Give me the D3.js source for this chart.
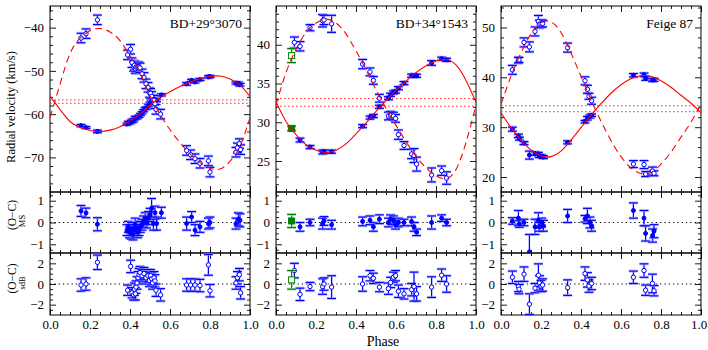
<!DOCTYPE html>
<html><head><meta charset="utf-8">
<script src="https://cdn.jsdelivr.net/npm/d3@7"></script>
<style>
body{margin:0;background:#fff;}
svg{display:block;}
text{font-family:"Liberation Serif","Times New Roman",serif;}
</style></head><body>
<svg id="chart" width="708" height="350"></svg>
<script>
// ---------------- DATA ----------------
const starNames = ["BD+29°3070", "BD+34°1543", "Feige 87"];
const rvDomains = [[-78, -35], [21, 45], [17, 54.3]];
const rvTicks = [[-70, -60, -50, -40], [25, 30, 35, 40], [20, 30, 40, 50]];
const rvMinorStep = [2, 1, 2];
const phaseTicks = [0, 0.2, 0.4, 0.6, 0.8, 1.0];
const ocMSTicks = [-1, 0, 1];
const ocSdbTicks = [-2, 0, 2];
const gammaMS = [-57.5, 32.07, 33.1];
const gammaSdb = [-56.7, 33.06, 34.3];

// model curves sampled at these phases
const modelPhase = [0, 0.05, 0.1, 0.15, 0.2, 0.25, 0.3, 0.35, 0.4, 0.45, 0.5, 0.55, 0.6, 0.65, 0.7, 0.75, 0.8, 0.85, 0.9, 0.95, 1.0];
const bd29MsModel = [-55.9, -58.9, -61.7, -63.1, -63.8, -64.0, -63.7, -62.9, -61.5, -60.0, -57.9, -56.2, -54.8, -53.6, -52.6, -51.8, -51.3, -51.2, -51.9, -53.3, -55.9];
const bd29SdbModel = [-60.8, -53.1, -46.0, -42.5, -40.7, -40.2, -41.0, -43.0, -46.5, -50.4, -55.7, -60.0, -63.6, -66.6, -69.2, -71.2, -72.5, -72.7, -70.9, -67.4, -60.8];
const bd34MsModel = [32.6, 30.1, 28.4, 27.1, 26.4, 26.1, 26.4, 27.2, 28.5, 29.9, 31.4, 32.8, 34.1, 35.3, 36.4, 37.3, 37.9, 38.1, 37.4, 35.4, 32.6];
const bd34SdbModel = [32.2, 36.4, 39.4, 41.6, 42.8, 43.3, 42.8, 41.4, 39.2, 36.8, 34.2, 31.8, 29.6, 27.5, 25.6, 24.1, 23.1, 22.7, 23.9, 27.4, 32.2];
const feigeMsModel = [32.9, 29.9, 27.4, 25.4, 24.2, 24.1, 25.2, 27.4, 29.9, 32.4, 34.7, 36.8, 38.5, 39.7, 40.3, 40.2, 39.3, 38.0, 36.4, 34.8, 32.9];
const feigeSdbModel = [34.6, 40.2, 44.9, 48.7, 50.9, 51.1, 49.0, 44.9, 40.2, 35.5, 31.2, 27.3, 24.1, 21.8, 20.7, 20.9, 22.6, 25.0, 28.0, 31.0, 34.6];

// observations: [phase, value, error]
const bd29MsRV = [[0.155,-62.65,0.25],[0.18,-63.1,0.22],[0.237,-64.0,0.3],[0.385,-62.3,0.25],[0.392,-61.9,0.25],[0.398,-62.0,0.25],[0.405,-61.85,0.25],[0.41,-61.5,0.3],[0.415,-61.6,0.25],[0.42,-61.25,0.25],[0.426,-60.8,0.3],[0.432,-60.8,0.25],[0.438,-60.8,0.25],[0.445,-60.5,0.25],[0.452,-60.1,0.25],[0.46,-59.7,0.25],[0.468,-59.2,0.25],[0.476,-58.7,0.25],[0.483,-58.6,0.25],[0.492,-58.0,0.3],[0.5,-57.55,0.3],[0.508,-57.0,0.45],[0.517,-57.4,0.3],[0.525,-56.6,0.3],[0.533,-56.8,0.3],[0.557,-55.55,0.25],[0.683,-53.0,0.3],[0.708,-52.2,0.25],[0.725,-52.55,0.25],[0.75,-52.0,0.25],[0.792,-51.4,0.25],[0.8,-51.3,0.25],[0.93,-52.8,0.25],[0.942,-52.9,0.3],[0.95,-53.2,0.3]];
const bd29MsOC = [[0.155,0.53,0.25],[0.18,0.44,0.22],[0.237,-0.08,0.3],[0.385,-0.35,0.25],[0.392,-0.2,0.25],[0.398,-0.45,0.25],[0.405,-0.5,0.25],[0.41,-0.3,0.3],[0.415,-0.55,0.25],[0.42,-0.35,0.25],[0.426,-0.1,0.3],[0.432,-0.25,0.25],[0.438,-0.45,0.25],[0.445,-0.35,0.25],[0.452,-0.2,0.25],[0.46,-0.1,0.25],[0.468,0.05,0.25],[0.476,0.2,0.25],[0.483,0.0,0.25],[0.492,0.2,0.3],[0.5,0.35,0.3],[0.508,0.65,0.45],[0.517,-0.05,0.3],[0.525,0.45,0.3],[0.533,-0.05,0.3],[0.557,0.45,0.25],[0.683,-0.05,0.3],[0.708,0.25,0.25],[0.725,-0.35,0.25],[0.75,-0.2,0.25],[0.792,-0.05,0.25],[0.8,0.0,0.25],[0.93,-0.05,0.25],[0.942,0.15,0.3],[0.95,0.1,0.3]];
const bd29SdbRV = [[0.155,-42.4,1.1],[0.18,-41.4,1.1],[0.237,-38.2,1.1],[0.388,-46.3,1.1],[0.403,-45.0,1.1],[0.41,-48.1,1.1],[0.418,-49.0,1.1],[0.422,-48.7,1.1],[0.427,-49.5,1.1],[0.43,-49.1,1.1],[0.435,-49.1,1.1],[0.44,-49.0,1.1],[0.445,-49.1,1.1],[0.45,-49.3,1.1],[0.46,-50.7,1.1],[0.47,-51.5,1.1],[0.48,-53.0,1.1],[0.49,-53.8,1.1],[0.497,-55.0,1.1],[0.503,-55.2,1.1],[0.508,-55.9,1.1],[0.513,-56.7,1.1],[0.52,-56.8,1.1],[0.525,-57.6,1.1],[0.53,-58.9,1.1],[0.553,-60.0,1.1],[0.683,-68.4,1.1],[0.703,-69.4,1.1],[0.725,-70.3,1.1],[0.75,-71.35,1.1],[0.792,-70.8,1.1],[0.8,-73.4,1.1],[0.93,-68.8,1.1],[0.937,-67.8,1.1],[0.947,-66.8,1.1],[0.953,-68.2,1.1]];
const bd29SdbOC = [[0.155,-0.1,0.6],[0.18,0.0,0.6],[0.237,2.1,0.7],[0.388,-0.6,0.5],[0.403,1.7,0.6],[0.41,-0.85,0.5],[0.418,-1.05,0.5],[0.422,-0.5,0.6],[0.427,-0.95,0.6],[0.43,-0.3,0.6],[0.435,0.1,0.6],[0.44,0.6,0.6],[0.445,0.9,0.6],[0.45,1.1,0.6],[0.46,0.8,0.6],[0.47,1.0,0.6],[0.48,0.6,0.6],[0.49,0.8,0.6],[0.497,0.35,0.6],[0.503,0.8,0.6],[0.508,0.5,0.6],[0.513,0.1,0.6],[0.52,0.6,0.6],[0.525,0.3,0.6],[0.53,-0.6,0.6],[0.553,-1.05,0.6],[0.683,-0.1,0.6],[0.703,-0.1,0.6],[0.725,-0.1,0.6],[0.75,-0.15,0.6],[0.792,1.85,1.0],[0.8,-0.65,0.6],[0.93,0.1,0.6],[0.937,0.6,0.6],[0.947,0.9,0.6],[0.953,-0.85,0.6]];

const bd34MsRV = [[0.12,27.7,0.25],[0.17,26.8,0.2],[0.233,26.15,0.25],[0.24,26.2,0.2],[0.278,26.2,0.2],[0.433,29.5,0.2],[0.47,30.6,0.2],[0.487,30.8,0.2],[0.517,32.0,0.2],[0.562,33.1,0.2],[0.573,33.55,0.2],[0.587,33.85,0.2],[0.598,33.95,0.2],[0.612,34.4,0.2],[0.64,35.05,0.2],[0.678,36.0,0.2],[0.69,36.0,0.2],[0.703,36.0,0.2],[0.778,37.65,0.3],[0.828,38.2,0.2],[0.853,38.05,0.2]];
const bd34MsOC = [[0.12,-0.2,0.2],[0.17,0.0,0.15],[0.233,-0.05,0.25],[0.24,0.07,0.2],[0.278,-0.1,0.2],[0.433,0.05,0.2],[0.47,0.1,0.2],[0.487,-0.2,0.2],[0.517,0.15,0.2],[0.562,0.0,0.2],[0.573,0.15,0.2],[0.587,0.1,0.2],[0.598,-0.1,0.2],[0.612,0.0,0.2],[0.64,0.0,0.15],[0.678,0.05,0.2],[0.69,-0.2,0.2],[0.703,-0.45,0.15],[0.778,0.0,0.3],[0.828,0.2,0.15],[0.853,0.0,0.15]];
const bd34SdbRV = [[0.092,40.3,0.7],[0.12,39.8,0.6],[0.17,42.2,0.4],[0.233,43.1,0.8],[0.24,43.2,0.6],[0.278,42.7,1.1],[0.433,37.5,0.6],[0.47,36.5,0.5],[0.487,35.4,0.5],[0.517,33.1,0.5],[0.562,30.8,0.5],[0.573,30.9,0.5],[0.587,30.8,0.5],[0.598,30.5,0.5],[0.612,28.4,0.6],[0.64,27.0,0.5],[0.678,25.9,0.6],[0.69,25.7,0.9],[0.703,24.6,0.9],[0.778,23.2,0.9],[0.828,23.75,0.6],[0.853,22.8,0.8]];
const bd34SdbOC = [[0.092,1.3,0.7],[0.12,-1.0,0.6],[0.17,-0.25,0.4],[0.233,-0.25,0.75],[0.24,0.0,0.6],[0.278,-0.3,1.1],[0.433,0.0,0.7],[0.47,0.8,0.5],[0.487,0.55,0.5],[0.517,-0.3,0.45],[0.562,-0.45,0.55],[0.573,0.15,0.5],[0.587,0.65,0.5],[0.598,0.8,0.5],[0.612,-0.7,0.6],[0.64,-0.95,0.5],[0.678,-0.55,0.6],[0.69,-0.25,1.4],[0.703,-0.95,0.7],[0.778,-0.3,1.0],[0.828,0.85,0.6],[0.853,0.0,0.8]];
const bd34GreenMsRV = [[0.078,29.2,0.3]];
const bd34GreenMsOC = [[0.078,0.07,0.3]];
const bd34GreenSdbRV = [[0.078,38.6,0.9]];
const bd34GreenSdbOC = [[0.078,0.4,0.9]];

const feigeMsRV = [[0.057,29.6,0.4],[0.087,28.25,0.35],[0.092,27.7,0.3],[0.115,26.8,0.3],[0.142,24.4,0.8],[0.17,24.7,0.35],[0.187,24.6,0.35],[0.192,24.2,0.3],[0.203,24.2,0.3],[0.212,24.0,0.3],[0.333,26.95,0.3],[0.42,31.1,0.25],[0.432,31.8,0.35],[0.445,32.15,0.3],[0.453,32.4,0.25],[0.662,40.4,0.35],[0.715,40.5,0.35],[0.723,39.75,0.35],[0.758,39.45,0.3],[0.765,39.5,0.3]];
const feigeMsOC = [[0.057,0.07,0.15],[0.087,0.2,0.35],[0.092,-0.07,0.15],[0.115,0.0,0.15],[0.142,-1.35,0.8],[0.17,-0.2,0.35],[0.187,0.1,0.35],[0.192,-0.2,0.2],[0.203,0.0,0.2],[0.212,-0.15,0.25],[0.333,0.3,0.3],[0.42,0.17,0.15],[0.432,0.3,0.35],[0.445,0.0,0.25],[0.453,-0.15,0.25],[0.662,0.55,0.35],[0.715,0.2,0.35],[0.723,-0.5,0.35],[0.758,-0.6,0.3],[0.765,-0.4,0.3]];
const feigeSdbRV = [[0.057,41.5,0.9],[0.087,43.4,0.6],[0.09,43.5,0.5],[0.115,47.0,0.9],[0.142,46.1,1.0],[0.17,49.2,0.9],[0.187,51.2,1.2],[0.192,50.65,0.8],[0.2,50.7,0.7],[0.208,50.8,0.7],[0.333,45.95,0.9],[0.42,39.3,0.8],[0.432,37.6,0.8],[0.44,36.2,0.6],[0.453,35.3,0.7],[0.662,22.6,0.7],[0.715,22.5,0.8],[0.723,20.6,0.5],[0.757,21.2,0.8],[0.765,20.75,0.5]];
const feigeSdbOC = [[0.057,0.65,0.6],[0.087,-0.25,0.5],[0.09,-0.5,0.45],[0.115,0.95,0.7],[0.142,-1.95,1.0],[0.17,-0.4,0.45],[0.187,0.85,1.1],[0.192,0.1,0.7],[0.2,-0.2,0.55],[0.208,-0.1,0.6],[0.333,-0.35,0.75],[0.42,1.0,0.65],[0.432,0.4,0.7],[0.44,-0.2,0.6],[0.453,0.05,0.6],[0.662,0.65,0.6],[0.715,1.3,0.65],[0.723,-0.6,0.5],[0.757,0.05,0.9],[0.765,-0.65,0.5]];

// ---------------- LAYOUT ----------------
const FONT = "'Liberation Serif','Times New Roman',serif";
const colX = [[50, 250], [276, 476], [501, 701]];
const rowRV = [6, 192], rowMS = [192, 253], rowSdb = [253, 315];
const BLUE = "#0000ff", BLUE_HALO = "#9a9aff", GREEN = "#008000", GREEN_HALO = "#99d699", RED = "#ff0000";

const columns = [
  {ms: bd29MsModel, sdb: bd29SdbModel, msRV: bd29MsRV, sdbRV: bd29SdbRV, msOC: bd29MsOC, sdbOC: bd29SdbOC},
  {ms: bd34MsModel, sdb: bd34SdbModel, msRV: bd34MsRV, sdbRV: bd34SdbRV, msOC: bd34MsOC, sdbOC: bd34SdbOC,
   gMsRV: bd34GreenMsRV, gMsOC: bd34GreenMsOC, gSdbRV: bd34GreenSdbRV, gSdbOC: bd34GreenSdbOC},
  {ms: feigeMsModel, sdb: feigeSdbModel, msRV: feigeMsRV, sdbRV: feigeSdbRV, msOC: feigeMsOC, sdbOC: feigeSdbOC}
];

const svg = d3.select("#chart");
const defs = svg.append("defs");
let clipCount = 0;

function stepValues(domain, step, exclude) {
  const lo = Math.min(domain[0], domain[1]), hi = Math.max(domain[0], domain[1]);
  const out = [];
  for (let v = Math.ceil(lo / step - 1e-9) * step; v <= hi + 1e-9; v += step) {
    const r = Math.round(v * 1000) / 1000;
    if (r <= lo + 1e-6 || r >= hi - 1e-6) continue;
    if (exclude.some(e => Math.abs(e - r) < 1e-6)) continue;
    out.push(r);
  }
  return out;
}

function styleAxis(g) {
  g.select(".domain").remove();
  g.attr("font-family", FONT).attr("font-size", 13);
  g.selectAll("line").attr("stroke", "#000").attr("stroke-width", 0.9);
  g.selectAll("text").attr("fill", "#000").attr("font-family", FONT);
}

function panel(x, y, yMajor, yMinor, yFmt, showX) {
  const [x0, x1] = x.range();
  const [yb, yt] = y.range();
  const g = svg.append("g");
  g.append("g").attr("transform", `translate(${x0},0)`)
    .call(d3.axisLeft(y).tickValues(yMajor).tickSize(-6).tickPadding(6).tickFormat(yFmt)).call(styleAxis);
  g.append("g").attr("transform", `translate(${x0},0)`)
    .call(d3.axisLeft(y).tickValues(yMinor).tickSize(-3).tickFormat("")).call(styleAxis);
  g.append("g").attr("transform", `translate(${x1},0)`)
    .call(d3.axisRight(y).tickValues(yMajor).tickSize(-6).tickFormat("")).call(styleAxis);
  g.append("g").attr("transform", `translate(${x1},0)`)
    .call(d3.axisRight(y).tickValues(yMinor).tickSize(-3).tickFormat("")).call(styleAxis);
  const xMinor = stepValues([0, 1], 0.05, phaseTicks);
  const bx = g.append("g").attr("transform", `translate(0,${yb})`)
    .call(d3.axisBottom(x).tickValues(phaseTicks).tickSize(-6).tickPadding(5)
      .tickFormat(showX ? d3.format(".1f") : "")).call(styleAxis);
  if (showX && x1 > 690) {
    // keep the last label inside the picture, as in the original
    bx.selectAll(".tick text").filter(d => d === 1).attr("dx", "-2.5");
  }
  g.append("g").attr("transform", `translate(0,${yb})`)
    .call(d3.axisBottom(x).tickValues(xMinor).tickSize(-3).tickFormat("")).call(styleAxis);
  g.append("g").attr("transform", `translate(0,${yt})`)
    .call(d3.axisTop(x).tickValues(phaseTicks).tickSize(-6).tickFormat("")).call(styleAxis);
  g.append("g").attr("transform", `translate(0,${yt})`)
    .call(d3.axisTop(x).tickValues(xMinor).tickSize(-3).tickFormat("")).call(styleAxis);
  g.append("rect").attr("x", x0).attr("y", yt).attr("width", x1 - x0).attr("height", yb - yt)
    .attr("fill", "none").attr("stroke", "#000").attr("stroke-width", 1);
  const id = "clip" + (clipCount++);
  defs.append("clipPath").attr("id", id).append("rect")
    .attr("x", x0).attr("y", yt).attr("width", x1 - x0).attr("height", yb - yt);
  return svg.append("g").attr("clip-path", `url(#${id})`);
}

function errorBars(g, x, y, data, color, halo) {
  const sel = g.append("g").selectAll("g").data(data).join("g");
  sel.append("line").attr("x1", d => x(d[0])).attr("x2", d => x(d[0]))
    .attr("y1", d => y(d[1] - d[2])).attr("y2", d => y(d[1] + d[2]))
    .attr("stroke", color).attr("stroke-width", 1.3);
  [-1, 1].forEach(s => {
    sel.append("line").attr("x1", d => x(d[0]) - 4.5).attr("x2", d => x(d[0]) + 4.5)
      .attr("y1", d => y(d[1] + s * d[2])).attr("y2", d => y(d[1] + s * d[2]))
      .attr("stroke", halo).attr("stroke-width", 3).attr("stroke-opacity", 0.6);
    sel.append("line").attr("x1", d => x(d[0]) - 4.5).attr("x2", d => x(d[0]) + 4.5)
      .attr("y1", d => y(d[1] + s * d[2])).attr("y2", d => y(d[1] + s * d[2]))
      .attr("stroke", color).attr("stroke-width", 1.2);
  });
}

function markers(g, x, y, data, filled, color, square) {
  if (square) {
    g.append("g").selectAll("rect").data(data).join("rect")
      .attr("x", d => x(d[0]) - 3).attr("y", d => y(d[1]) - 3).attr("width", 6).attr("height", 6)
      .attr("fill", filled ? color : "#fff").attr("stroke", color).attr("stroke-width", 1);
  } else {
    g.append("g").selectAll("circle").data(data).join("circle")
      .attr("cx", d => x(d[0])).attr("cy", d => y(d[1])).attr("r", filled ? 2 : 2.2)
      .attr("fill", filled ? color : "#fff").attr("stroke", color).attr("stroke-width", 1);
  }
}

columns.forEach((c, i) => {
  const x = d3.scaleLinear().domain([0, 1]).range(colX[i]);
  const yRV = d3.scaleLinear().domain(rvDomains[i]).range([rowRV[1], rowRV[0]]);
  const yMS = d3.scaleLinear().domain([-1.4, 1.4]).range([rowMS[1], rowMS[0]]);
  const ySd = d3.scaleLinear().domain([-3, 3]).range([rowSdb[1], rowSdb[0]]);

  // ---- RV panel
  const g1 = panel(x, yRV, rvTicks[i], stepValues(rvDomains[i], rvMinorStep[i], rvTicks[i]), d3.format("d"), false);
  [gammaMS[i], gammaSdb[i]].forEach(gm => {
    g1.append("line").attr("x1", x(0)).attr("x2", x(1)).attr("y1", yRV(gm)).attr("y2", yRV(gm))
      .attr("stroke", "#ff3030").attr("stroke-width", 1).attr("stroke-dasharray", "1.6,2.4");
  });
  errorBars(g1, x, yRV, c.msRV, BLUE, BLUE_HALO);
  errorBars(g1, x, yRV, c.sdbRV, BLUE, BLUE_HALO);
  if (c.gMsRV) { errorBars(g1, x, yRV, c.gMsRV, GREEN, GREEN_HALO); errorBars(g1, x, yRV, c.gSdbRV, GREEN, GREEN_HALO); }
  markers(g1, x, yRV, c.msRV, true, BLUE, false);
  markers(g1, x, yRV, c.sdbRV, false, BLUE, false);
  if (c.gMsRV) { markers(g1, x, yRV, c.gMsRV, true, GREEN, true); markers(g1, x, yRV, c.gSdbRV, false, GREEN, true); }
  const line = d3.line().x((d, j) => x(modelPhase[j])).y(d => yRV(d)).curve(d3.curveNatural);
  g1.append("path").attr("d", line(c.ms)).attr("fill", "none").attr("stroke", RED).attr("stroke-width", 1.1);
  g1.append("path").attr("d", line(c.sdb)).attr("fill", "none").attr("stroke", RED).attr("stroke-width", 1.1)
    .attr("stroke-dasharray", "7,4.5");
  svg.append("text").attr("x", colX[i][1] - 8).attr("y", 27.5).attr("text-anchor", "end")
    .attr("font-family", FONT).attr("font-size", 13.5).text(starNames[i]);

  // ---- O-C MS panel
  const g2 = panel(x, yMS, ocMSTicks, stepValues([-1.4, 1.4], 0.25, ocMSTicks), d3.format("d"), false);
  g2.append("line").attr("x1", x(0)).attr("x2", x(1)).attr("y1", yMS(0)).attr("y2", yMS(0))
    .attr("stroke", "#000").attr("stroke-width", 1).attr("stroke-dasharray", "1.3,3");
  errorBars(g2, x, yMS, c.msOC, BLUE, BLUE_HALO);
  markers(g2, x, yMS, c.msOC, true, BLUE, false);
  if (c.gMsOC) { errorBars(g2, x, yMS, c.gMsOC, GREEN, GREEN_HALO); markers(g2, x, yMS, c.gMsOC, true, GREEN, true); }

  // ---- O-C sdB panel
  const g3 = panel(x, ySd, ocSdbTicks, stepValues([-3, 3], 0.5, ocSdbTicks), d3.format("d"), true);
  g3.append("line").attr("x1", x(0)).attr("x2", x(1)).attr("y1", ySd(0)).attr("y2", ySd(0))
    .attr("stroke", "#000").attr("stroke-width", 1).attr("stroke-dasharray", "1.3,3");
  errorBars(g3, x, ySd, c.sdbOC, BLUE, BLUE_HALO);
  markers(g3, x, ySd, c.sdbOC, false, BLUE, false);
  if (c.gSdbOC) { errorBars(g3, x, ySd, c.gSdbOC, GREEN, GREEN_HALO); markers(g3, x, ySd, c.gSdbOC, false, GREEN, true); }
});

// ---- axis titles
function title(tx, ty, size, str) {
  svg.append("text").attr("transform", `translate(${tx},${ty}) rotate(-90)`).attr("text-anchor", "middle")
    .attr("font-family", FONT).attr("font-size", size).text(str);
}
title(14.5, 107, 12.5, "Radial velocity (km/s)");
title(16, 215, 11.5, "(O−C)");
title(24.5, 221, 8.5, "MS");
title(16, 278.5, 11.5, "(O−C)");
title(24.5, 283, 8.5, "sdB");
svg.append("text").attr("x", 383).attr("y", 346).attr("text-anchor", "middle")
  .attr("font-family", FONT).attr("font-size", 14).text("Phase");
</script>
</body></html>
